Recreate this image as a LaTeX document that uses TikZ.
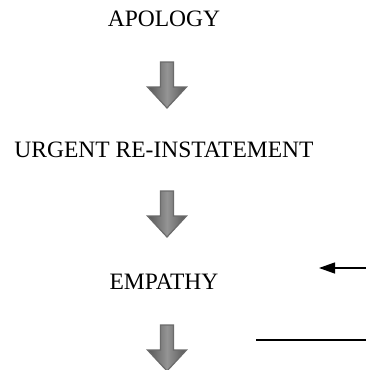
\documentclass[tikz,border=0pt]{standalone}
\usepackage{fontspec}
\setmainfont{Liberation Serif}
\usetikzlibrary{arrows.meta}
\begin{document}
\begin{tikzpicture}[x=1pt,y=-1pt,
  label text/.style={font=\fontsize{23.5}{28}\selectfont, inner sep=0pt},
  block fill/.style={draw=black!58, line width=1.2pt, line join=miter,
    left color=black!66, right color=black!66, middle color=black!42},
  downarrow/.pic={
    \path[block fill] (-6.5,0) -- (6.5,0) -- (6.5,25) -- (19.5,25) -- (0,46)
      -- (-19.5,25) -- (-6.5,25) -- cycle;
  },
  thin rule/.style={line width=1.3pt}
]
\useasboundingbox (0,0) rectangle (365,370);

% stage labels
\node[label text] (apology) at (164,19) {APOLOGY};
\node[label text] (urgent)  at (164,150) {URGENT RE-INSTATEMENT};
\node[label text] (empathy) at (164,282) {EMPATHY};

% block arrows between the stages
\pic (a1) at (167,62)  {downarrow};
\pic (a2) at (167,191) {downarrow};
\pic (a3) at (167,325) {downarrow};

% pointer arrow and rule on the right
\coordinate (ptrstart) at (366,268);
\coordinate (ptrtip)   at (319,268);
\draw[thin rule, -{Triangle[length=16pt,width=11pt]}] (ptrstart) -- (ptrtip);

\coordinate (rulestart) at (256,340);
\coordinate (ruleend)   at (366,340);
\draw[thin rule] (rulestart) -- (ruleend);
\end{tikzpicture}
\end{document}
